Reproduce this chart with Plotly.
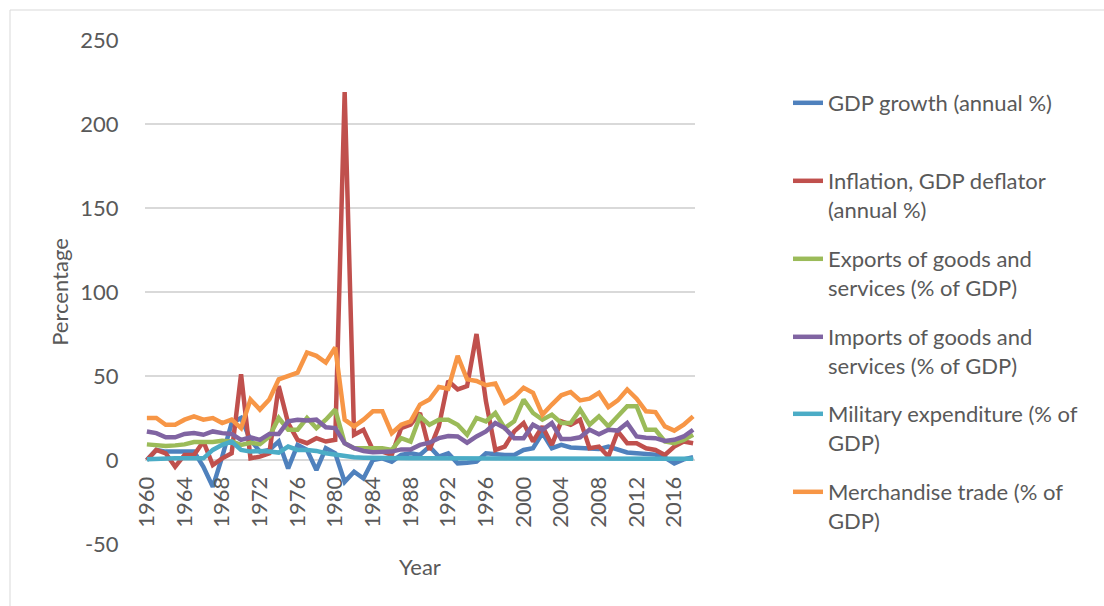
import plotly.graph_objects as go

years = list(range(1960, 2019))

gdp_growth = [0, 6, 5, 5, 5, 5, -4, -16, 2, 22,
              25, 12, 5, 6, 11, -5, 9, 6, -6, 7,
              4, -13, -7, -11, 0, 1, -1, 3, 4, 3,
              8, 2, 4, -2, -1.6, -1, 4, 3.4, 3, 3,
              6, 7, 16, 7, 9, 7.5, 7, 6.5, 6.5, 8,
              6, 4.5, 4, 3.6, 3.2, 1.5, -2, 0.4, 1.6]

inflation = [0, 6, 4, -4, 3, 3, 11, -3, 1, 4,
             51, 1, 2, 4, 44, 22, 12, 10, 13, 11,
             12, 219, 15, 18, 6, 5, 3, 19, 21, 28,
             6, 20, 47, 42, 44, 75, 35, 6, 8, 17,
             22, 11, 20, 9, 23, 21, 24, 7, 8, 2,
             17, 10, 10, 7, 6, 3, 8, 11, 10]

exports = [9.3, 9, 8.3, 8.7, 9.3, 10.7, 10.7, 10.7, 11.5, 11,
           9, 10.3, 9.5, 14, 25, 18, 18, 25, 19, 24,
           30, 10, 7, 7, 7.5, 7, 6, 13, 11, 26,
           21, 24, 24, 21, 15, 25, 23, 28, 19, 23,
           36, 28, 24, 27, 22, 22, 30, 21, 26, 20,
           26, 32, 32, 18, 18, 11, 10, 12, 15]

imports = [17, 16, 13.5, 13.5, 15.5, 16, 15, 17, 16, 15.5,
           12, 13.5, 12, 15.5, 15.5, 23, 24, 23.5, 24, 19.5,
           19, 10, 7, 5.4, 4.6, 4.6, 5, 6.3, 6.3, 9,
           10.3, 13, 14.3, 14, 10.3, 14, 17, 22, 19, 13,
           13, 21, 18, 22, 12.5, 12.5, 13.5, 18, 15.3, 18,
           17.5, 22, 14, 13.3, 13, 11.3, 12, 14, 18]

military = [0.4, 0.8, 1, 1, 1, 1, 1, 6, 9, 11,
            6, 5, 5.4, 5, 4.4, 8, 6, 6, 5.4, 4,
            3, 2, 1.6, 1.4, 1.2, 1.1, 1, 1, 1, 1,
            1, 0.9, 0.9, 0.8, 0.8, 0.8, 0.8, 0.8, 0.8, 0.8,
            0.8, 0.8, 0.8, 0.8, 0.8, 0.8, 0.8, 0.8, 0.8, 0.8,
            0.8, 0.8, 0.8, 0.8, 0.8, 0.8, 0.8, 0.8, 0.8]

merch_trade = [25, 25, 21, 21, 24, 26, 24, 25, 22, 24,
               19, 36, 30, 36, 48, 50, 52, 64, 62, 58,
               67, 24, 20, 24, 29, 29, 16, 21, 23, 33,
               36, 43.5, 42.5, 62, 48, 47, 44.5, 45.5, 34, 37.5,
               43, 40, 27, 33, 38.5, 40.5, 35.5, 36.5, 40, 31.5,
               35.5, 42, 36.5, 29, 28.5, 20, 17.5, 21, 26]

series_names = ["GDP growth (annual %)",
                "Inflation, GDP deflator<br>(annual %)",
                "Exports of goods and<br>services (% of GDP)",
                "Imports of goods and<br>services (% of GDP)",
                "Military expenditure (% of<br>GDP)",
                "Merchandise trade (% of<br>GDP)"]
series_values = [gdp_growth, inflation, exports, imports, military, merch_trade]
series_colors = ["#4F81BD", "#C0504D", "#9BBB59", "#8064A2", "#4BACC6", "#F79646"]

x_tick_years = years[::4]
y_ticks = [-50, 0, 50, 100, 150, 200, 250]
y_tick_text = ["-50", "0", "50", "100", "150", "200", "250"]

FONT = "Lato"
TXT = "#595959"
FS = 22

# plot area in px
L, R, T, B = 145, 695, 40, 544
W, H = 1104, 606
pw, ph = R - L, B - T

def px_x(p):
    return (p - L) / pw

def px_y(p):
    return (B - p) / ph

fig = go.Figure()
legend_ids = ["legend", "legend2", "legend3", "legend4", "legend5", "legend6"]
for i, (name, vals, col) in enumerate(zip(series_names, series_values, series_colors)):
    fig.add_trace(go.Scatter(x=years, y=vals, mode="lines", name=name,
                             line=dict(color=col, width=4.5),
                             legend=legend_ids[i]))

legend_line_y = [103, 181, 259, 337, 414, 492]
layout_legends = {}
for i, lid in enumerate(legend_ids):
    layout_legends[lid] = dict(
        x=px_x(788), xanchor="left",
        y=px_y(legend_line_y[i] - 21), yanchor="top",
        font=dict(family=FONT, size=FS, color=TXT),
        bgcolor="rgba(0,0,0,0)", valign="top",
    )

fig.update_layout(
    width=W, height=H,
    margin=dict(l=L, r=W - R, t=T, b=H - B),
    paper_bgcolor="white", plot_bgcolor="white",
    font=dict(family=FONT, size=FS, color=TXT),
    showlegend=True,
    **layout_legends,
    xaxis=dict(
        range=[1959.8, 2018.2],
        tickvals=x_tick_years, ticktext=[str(y) for y in x_tick_years],
        tickangle=-90, showgrid=False, zeroline=False, showline=False,
        anchor="free", position=px_y(460),
        ticks="outside", ticklen=7, tickcolor="rgba(0,0,0,0)",
        tickfont=dict(family=FONT, size=FS, color=TXT),
    ),
    yaxis=dict(
        range=[-50, 250], tickvals=y_ticks, ticktext=y_tick_text,
        showgrid=True, gridcolor="#D9D9D9", gridwidth=1.5,
        zeroline=False, showline=False,
        ticks="outside", ticklen=21, tickcolor="rgba(0,0,0,0)",
        tickfont=dict(family=FONT, size=FS, color=TXT),
        title=dict(text="Percentage", standoff=5,
                   font=dict(family=FONT, size=FS, color=TXT)),
    ),
    annotations=[dict(text="Year", xref="paper", yref="paper",
                      x=0.5, y=px_y(566), xanchor="center", yanchor="middle",
                      showarrow=False, font=dict(family=FONT, size=FS, color=TXT))],
    shapes=[dict(type="rect", xref="paper", yref="paper",
                 x0=px_x(10), x1=px_x(1110), y0=px_y(610), y1=px_y(10),
                 line=dict(color="#D9D9D9", width=1), layer="below")],
)

fig.write_html("out.html")
